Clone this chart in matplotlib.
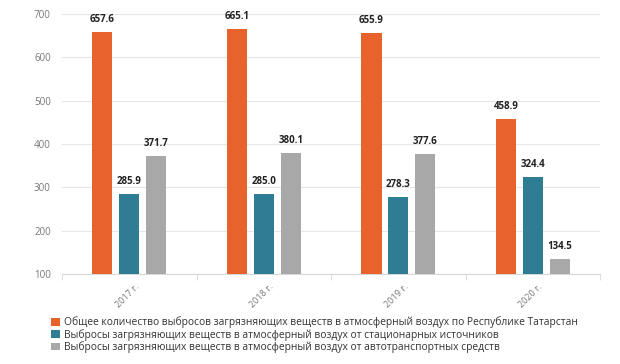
import matplotlib
matplotlib.use("Agg")
import matplotlib.pyplot as plt
import numpy as np

categories = ["2017 г.", "2018 г.", "2019 г.", "2020 г."]
total = [657.6, 665.1, 655.9, 458.9]
stationary = [285.9, 285.0, 278.3, 324.4]
transport = [371.7, 380.1, 377.6, 134.5]
series_names = [
    "Общее количество выбросов загрязняющих веществ в атмосферный воздух по Республике Татарстан",
    "Выбросы загрязняющих веществ в атмосферный воздух от стационарных источников",
    "Выбросы загрязняющих веществ в атмосферный воздух от автотранспортных средств",
]
colors = ["#E8632B", "#2E7D95", "#A8A8A8"]

plt.rcParams['font.family'] = ['Open Sans', 'DejaVu Sans']

fig = plt.figure(figsize=(6.2, 3.64), dpi=100)
ax = fig.add_axes([0.1, 0.247, 0.868, 0.7145])

x = np.arange(len(categories))
bw = 0.15
step = 0.2
base = 100
handles = []
for i, (vals, c) in enumerate(zip([total, stationary, transport], colors)):
    pos = x + (i - 1) * step
    heights = [v - base for v in vals]
    b = ax.bar(pos, heights, bw, bottom=base, color=c, zorder=3)
    handles.append(b)
    for p, v in zip(pos, vals):
        ax.annotate(f"{v:.1f}", (p, v), xytext=(0, 5), textcoords="offset points",
                    ha="center", va="bottom", fontsize=7, fontweight="bold", color="#222222")

ax.set_xlim(-0.5, len(categories) - 0.5)
ax.set_ylim(100, 700)
ax.set_yticks([100, 200, 300, 400, 500, 600, 700])
ax.tick_params(axis="y", length=0, labelsize=7, labelcolor="#777777", pad=8)
ax.grid(axis="y", color="#E6E6E6", linewidth=0.8, zorder=0)
for s in ["top", "right", "left"]:
    ax.spines[s].set_visible(False)
ax.spines["bottom"].set_color("#D8D8D8")
ax.set_xticks(x + 0.04)
ax.set_xticklabels(categories, rotation=45, ha="right", va="top", rotation_mode="anchor",
                   fontsize=6.5, color="#777777")
ax.tick_params(axis="x", length=0, pad=6)
ax.set_xticks(np.arange(-0.5, len(categories), 1.0), minor=True)
ax.tick_params(axis="x", which="minor", length=4, color="#D8D8D8")

fig.legend(handles, series_names, loc="upper left", bbox_to_anchor=(0.083, 0.13),
           frameon=False, fontsize=7.4, handlelength=0.8, handleheight=0.8,
           handletextpad=0.4, labelspacing=0.05, borderaxespad=0, borderpad=0,
           labelcolor="#333333")

fig.savefig("out.png", dpi=100)
